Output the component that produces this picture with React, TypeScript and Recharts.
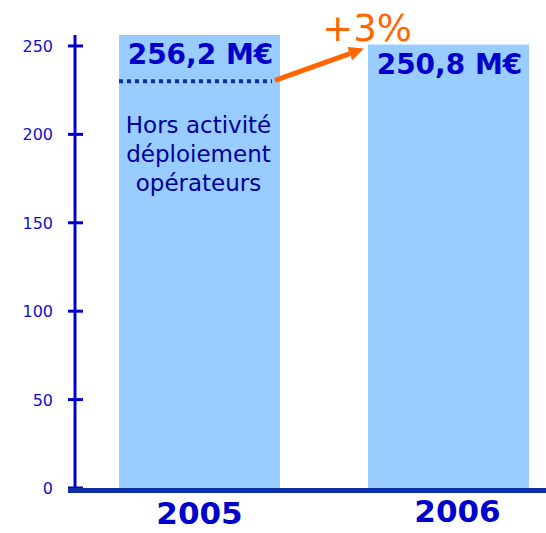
import { BarChart, Bar, XAxis, YAxis, LabelList } from "recharts";

// chiffre d'affaires (M€)
const years = ["2005", "2006"];
const revenue = [256.2, 250.8];
const revenueLabels = ["256,2 M€", "250,8 M€"];
// niveau 2005 hors activité déploiement opérateurs
const coreRevenue = [230, null];
const noteLines = ["Hors activité", "déploiement", "opérateurs"];
const growthLabel = "+3%";
const yTicks = [0, 50, 100, 150, 200, 250];

const data = years.map((year, i) => ({
  year,
  revenue: revenue[i],
  label: revenueLabels[i],
  core: coreRevenue[i]
}));

const BLUE = "#0000cc";
const AXIS_BLUE = "#0f2fa8";
const BAR_FILL = "#99ccff";
const ORANGE = "#ff6600";
const FONT = "DejaVu Sans, Verdana, sans-serif";

const BarShape = (props: any) => {
  const { x, y, width, height, payload, index } = props;
  const perUnit = height / payload.revenue;
  const yOf = (v: number) => y + height - v * perUnit;
  const cx = x + width / 2;
  const parts = [<rect key="r" x={x} y={y} width={width} height={height} fill={BAR_FILL} />];

  if (payload.core != null) {
    const yc = yOf(payload.core);
    parts.push(
      <line key="d" x1={x} y1={yc} x2={x + width - 8} y2={yc} stroke={AXIS_BLUE} strokeWidth={4} strokeDasharray="4 4" />
    );
    noteLines.forEach((t, k) => {
      parts.push(
        <text key={"n" + k} x={cx - 1} y={yc + 52 + k * 29} textAnchor="middle" fontSize={23} fontFamily={FONT} fill="#000099">
          {t}
        </text>
      );
    });
  }

  if (index > 0 && data[index - 1].core != null) {
    // flèche depuis la fin du pointillé de l'année précédente
    const prevCore = data[index - 1].core as number;
    const x0 = x - 93;
    const y0 = yOf(prevCore) - 1;
    const x1 = x - 4;
    const y1 = y + 4;
    const ang = Math.atan2(y1 - y0, x1 - x0);
    const hl = 15;
    const hw = 7;
    const bx = x1 - hl * Math.cos(ang);
    const by = y1 - hl * Math.sin(ang);
    const px = -Math.sin(ang) * hw;
    const py = Math.cos(ang) * hw;
    parts.push(
      <g key="a">
        <line x1={x0} y1={y0} x2={bx} y2={by} stroke={ORANGE} strokeWidth={5} />
        <polygon points={`${x1},${y1} ${bx + px},${by + py} ${bx - px},${by - py}`} fill={ORANGE} />
        <text x={x - 1} y={y - 4} textAnchor="middle" fontSize={37} fontFamily={FONT} fill={ORANGE}>
          {growthLabel}
        </text>
      </g>
    );
  }
  return <g>{parts}</g>;
};

const ValueLabel = (props: any) => {
  const { x, y, width, value } = props;
  return (
    <text x={x + width / 2 + 1} y={y + 29} textAnchor="middle" fontSize={28} fontWeight="bold" fontFamily={FONT} fill={BLUE}>
      {value}
    </text>
  );
};

const YTick = (props: any) => {
  const { x, y, payload } = props;
  return (
    <g>
      <line x1={x - 7} y1={y} x2={x + 8} y2={y} stroke={BLUE} strokeWidth={3} />
      <text x={x - 22} y={y + 6} textAnchor="end" fontSize={16} fontFamily={FONT} fill="#1111cc">
        {payload.value}
      </text>
      {payload.value === 0 && (
        <line x1={x - 7} y1={y + 2.5} x2={560} y2={y + 2.5} stroke={AXIS_BLUE} strokeWidth={5} />
      )}
    </g>
  );
};

const XTick = (props: any) => {
  const { x, y, payload, index } = props;
  const shift = index === 1 ? 9 : 0;
  return (
    <text x={x + shift} y={y + 36 - index * 2} textAnchor="middle" fontSize={31} fontWeight="bold" fontFamily={FONT} fill={BLUE}>
      {payload.value}
    </text>
  );
};

export default function App() {
  return (
    <div style={{ position: "absolute", left: 0, top: 0, width: 546, height: 533, overflow: "hidden", background: "#fff" }}>
      <BarChart width={573} height={533} data={data} margin={{ top: 35, right: 0, bottom: 0, left: 0 }} barSize={161}>
        <Bar dataKey="revenue" shape={<BarShape />} isAnimationActive={false}>
          <LabelList dataKey="label" content={<ValueLabel />} />
        </Bar>
        <XAxis
          dataKey="year"
          height={45}
          axisLine={false}
          tickLine={false}
          tickSize={0}
          tickMargin={0}
          tick={<XTick />}
        />
        <YAxis
          width={75}
          domain={[0, "dataMax"]}
          ticks={yTicks}
          axisLine={{ stroke: BLUE, strokeWidth: 3 }}
          tickLine={false}
          tickSize={0}
          tickMargin={0}
          tick={<YTick />}
        />
      </BarChart>
    </div>
  );
}
